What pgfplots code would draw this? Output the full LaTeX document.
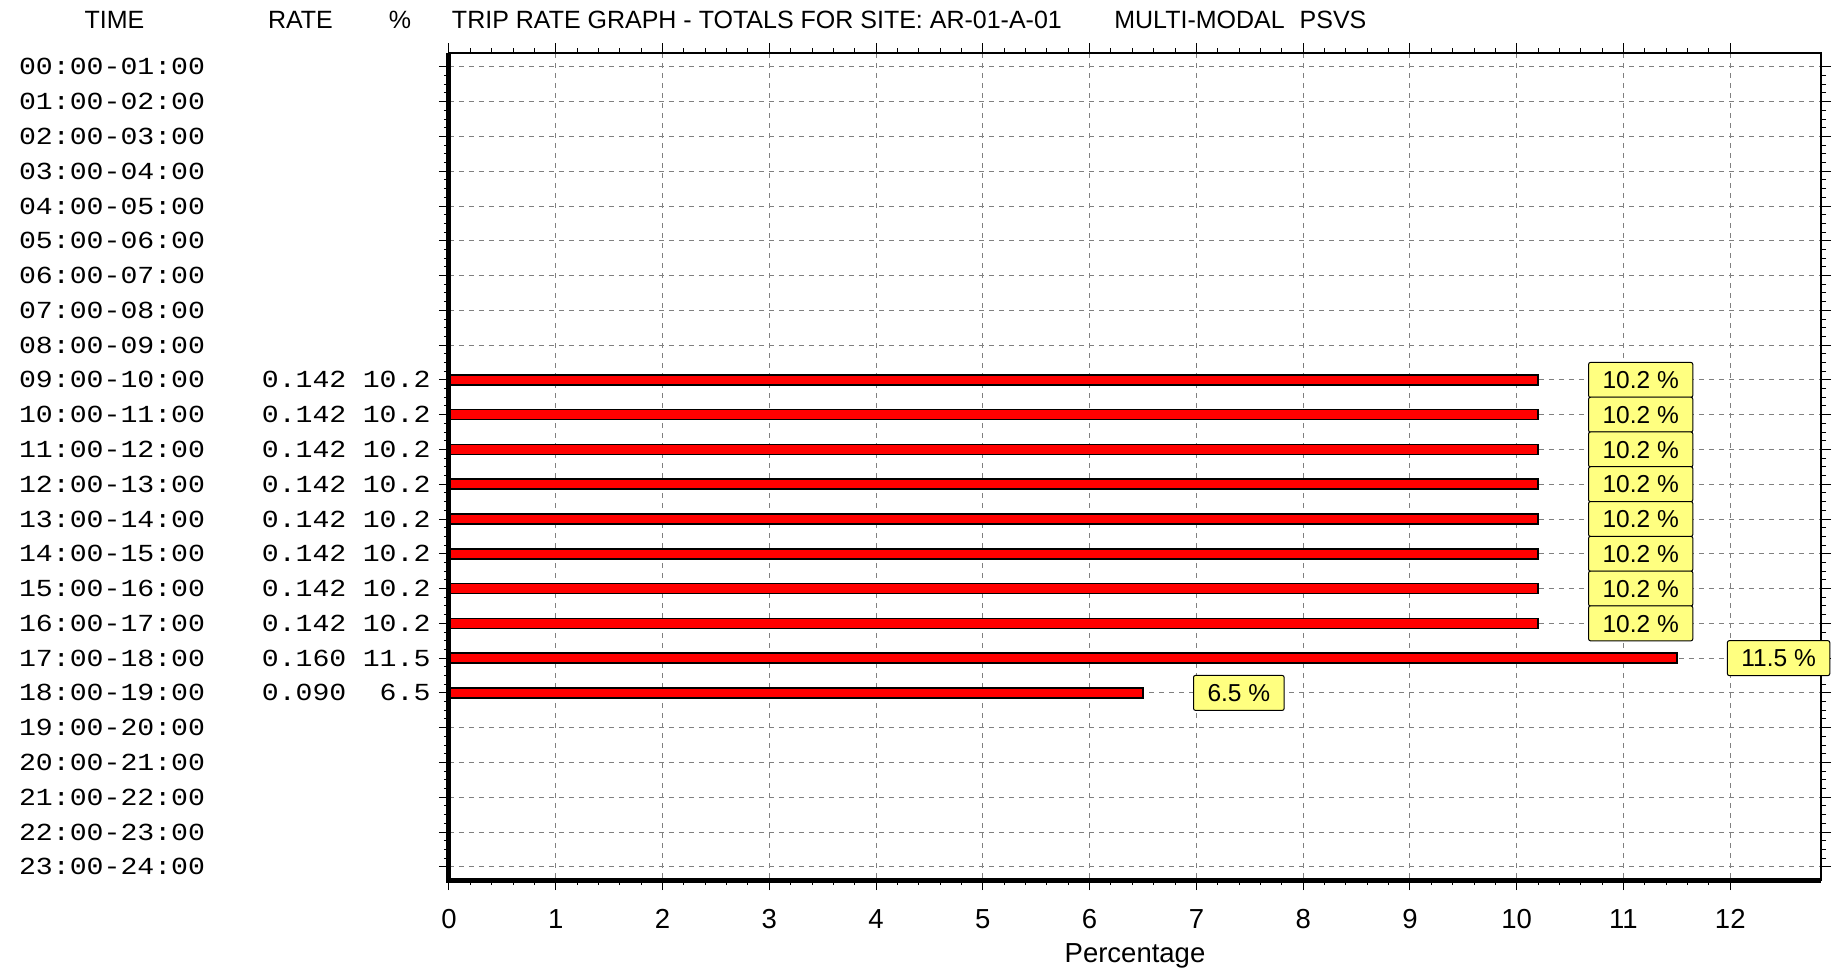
\documentclass[border=0pt]{standalone}
\usepackage{fontspec}
\setmainfont{Liberation Sans}
\newfontfamily\monofont[FakeStretch=1.15]{Liberation Mono}
\usepackage{pgfplots}
\pgfplotsset{compat=1.18}

% one pixel of the 1839x967 reference
\newlength\px \setlength\px{0.4pt}
\definecolor{barred}{RGB}{255,0,0}
\definecolor{tagyellow}{RGB}{255,255,128}
\newcommand\row[3]{\makebox[242.8\px][l]{#1}\makebox[101\px][l]{#2}\makebox[67.6\px][r]{#3}}

\begin{document}
\begin{tikzpicture}
\path[use as bounding box] (-449\px,-87\px) rectangle (1390\px,880\px);
\begin{axis}[
    at={(0,0)}, anchor=south west, scale only axis,
    width=1372\px, height=827\px,
    xmin=0, xmax=12.85,
    ymin=-0.4, ymax=23.38, y dir=reverse,
    xtick={0,...,12}, minor x tick num=4,
    ytick={0,...,23}, minor y tick num=3,
    yticklabels={
        \row{00:00-01:00}{}{}, \row{01:00-02:00}{}{}, \row{02:00-03:00}{}{},
        \row{03:00-04:00}{}{}, \row{04:00-05:00}{}{}, \row{05:00-06:00}{}{},
        \row{06:00-07:00}{}{}, \row{07:00-08:00}{}{}, \row{08:00-09:00}{}{},
        \row{09:00-10:00}{0.142}{10.2}, \row{10:00-11:00}{0.142}{10.2},
        \row{11:00-12:00}{0.142}{10.2}, \row{12:00-13:00}{0.142}{10.2},
        \row{13:00-14:00}{0.142}{10.2}, \row{14:00-15:00}{0.142}{10.2},
        \row{15:00-16:00}{0.142}{10.2}, \row{16:00-17:00}{0.142}{10.2},
        \row{17:00-18:00}{0.160}{11.5}, \row{18:00-19:00}{0.090}{6.5},
        \row{19:00-20:00}{}{}, \row{20:00-21:00}{}{}, \row{21:00-22:00}{}{},
        \row{22:00-23:00}{}{}, \row{23:00-24:00}{}{}},
    yticklabel style={font={\monofont\fontsize{9.8}{12}\selectfont}, anchor=east, inner sep=0pt, xshift=-8\px},
    /pgf/number format/assume math mode=true,
    xticklabel style={font={\fontsize{11}{13}\selectfont}, anchor=center, yshift=-29\px},
    xlabel={Percentage},
    xlabel style={font={\fontsize{11}{13}\selectfont}, at={(axis description cs:0.5,0)}, anchor=center, yshift=-76\px},
    tick align=outside,
    major tick length=10\px, minor tick length=5\px,
    tick style={black, line width=1\px},
    grid=major,
    major grid style={black!50, line width=1\px, dash pattern=on 5\px off 5\px},
    axis line style={line width=2\px},
    xbar, bar width=10\px,
    clip=false,
    nodes near coords, point meta=explicit symbolic,
    every node near coord/.style={anchor=west, xshift=50\px, fill=tagyellow, draw=black,
        line width=1\px, rounded corners=2\px, font={\fontsize{9.8}{11}\selectfont},
        inner xsep=14\px, inner ysep=0pt, minimum height=35\px, text height=7pt, text depth=0pt},
]
\addplot[draw=black, fill=barred, line width=1.5\px] coordinates {
    (10.2,9) [10.2 \%]
    (10.2,10) [10.2 \%]
    (10.2,11) [10.2 \%]
    (10.2,12) [10.2 \%]
    (10.2,13) [10.2 \%]
    (10.2,14) [10.2 \%]
    (10.2,15) [10.2 \%]
    (10.2,16) [10.2 \%]
    (11.5,17) [11.5 \%]
    (6.5,18) [6.5 \%]
};

\draw[line width=5\px] (axis cs:0,-0.4) -- (axis cs:0,23.38) -- (axis cs:12.85,23.38);

\node[font={\fontsize{10}{12}\selectfont}, xshift=-334.5\px, yshift=33\px] at (axis cs:0,-0.4) {TIME};
\node[font={\fontsize{10}{12}\selectfont}, xshift=-148.5\px, yshift=33\px] at (axis cs:0,-0.4) {RATE};
\node[font={\fontsize{10}{12}\selectfont}, xshift=-49\px, yshift=33\px] at (axis cs:0,-0.4) {\%};
\node[font={\fontsize{10}{12}\selectfont}, anchor=west, inner xsep=0pt, xshift=2.5\px, yshift=33\px] at (axis cs:0,-0.4)
    {TRIP RATE GRAPH - TOTALS FOR SITE: AR-01-A-01\hspace{21pt}MULTI-MODAL\hspace{6pt}PSVS};
\end{axis}
\end{tikzpicture}
\end{document}
